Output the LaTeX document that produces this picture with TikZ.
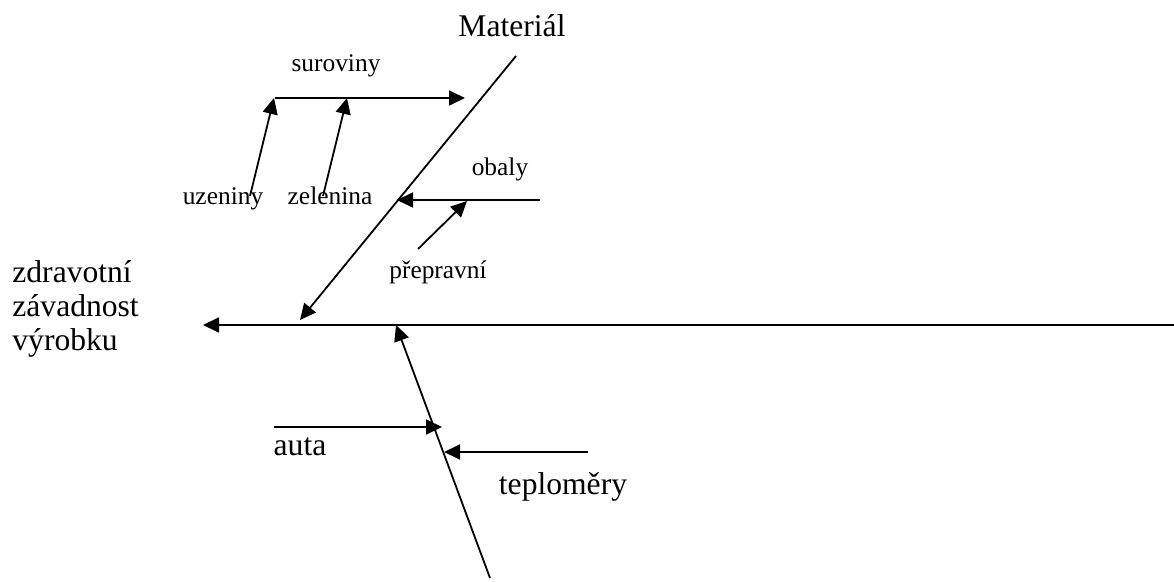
\documentclass[tikz,border=0pt]{standalone}
\usepackage{fontspec}
\setmainfont{Liberation Serif}
\usetikzlibrary{arrows.meta}
\begin{document}
\begin{tikzpicture}
[
x=0.5pt, y=-0.5pt,
Bone/.style={draw=black, line width=0.9pt, -{Triangle[length=8pt,width=7.5pt]}},
Bigtext/.style={font=\fontsize{15.8}{17}\selectfont, inner sep=0pt},
Smalltext/.style={font=\fontsize{12.7}{15}\selectfont, inner sep=0pt},
]

\useasboundingbox (0,0) rectangle (1174,582);

% end points of the bones
\coordinate (S1) at (1174,325);
\coordinate (S0) at (203,325);
\coordinate (M1) at (516,56);
\coordinate (M0) at (300,320);
\coordinate (A0) at (275,98);
\coordinate (A1) at (465,98);
\coordinate (U0) at (250,196);
\coordinate (U1) at (274,98);
\coordinate (Z0) at (323,196);
\coordinate (Z1) at (347,98);
\coordinate (O0) at (540,200);
\coordinate (O1) at (397,200);
\coordinate (P0) at (418,249);
\coordinate (P1) at (467,201);
\coordinate (L0) at (490,578);
\coordinate (L1) at (396,325);
\coordinate (T0) at (274,427);
\coordinate (T1) at (442,427);
\coordinate (R0) at (588,452);
\coordinate (R1) at (444,452);

% labels
\node[Bigtext, anchor=west, align=left] (effect) at (12,309) {zdravotní\\závadnost\\výrobku};
\node[Bigtext, anchor=base] (material) at (512,37) {Materiál};
\node[Smalltext, anchor=base] (suroviny) at (336,72) {suroviny};
\node[Smalltext, anchor=base] (uzeniny) at (223,205) {uzeniny};
\node[Smalltext, anchor=base] (zelenina) at (330,205) {zelenina};
\node[Smalltext, anchor=base] (obaly) at (500,176) {obaly};
\node[Smalltext, anchor=base] (prepravni) at (438,279) {přepravní};
\node[Bigtext, anchor=base] (auta) at (300,456) {auta};
\node[Bigtext, anchor=base] (teplomery) at (563,495) {teploměry};

% bones
\draw[Bone] (S1)--(S0);
\draw[Bone] (M1)--(M0);
\draw[Bone] (A0)--(A1);
\draw[Bone] (U0)--(U1);
\draw[Bone] (Z0)--(Z1);
\draw[Bone] (O0)--(O1);
\draw[Bone] (P0)--(P1);
\draw[Bone] (L0)--(L1);
\draw[Bone] (T0)--(T1);
\draw[Bone] (R0)--(R1);

\end{tikzpicture}
\end{document}
